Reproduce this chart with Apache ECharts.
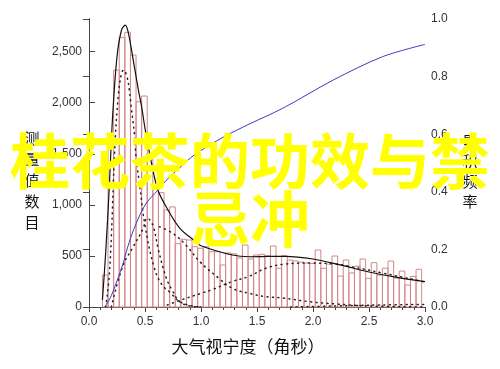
<!DOCTYPE html>
<html><head><meta charset="utf-8">
<script src="https://cdn.jsdelivr.net/npm/echarts@6/dist/echarts.min.js"></script>
<style>html,body{margin:0;padding:0;background:#fff}#c{width:500px;height:369px}</style>
</head><body><div id="c"></div>
<script>
// ---- data ----
const binStart = 0.12;
const binWidth = 0.05;
const counts = [313,1600,2320,2640,2690,2467,2010,2066,1500,1150,1120,950,980,620,663,656,590,575,590,541,541,411,528,520,480,607,470,509,516,500,597,379,502,460,450,440,430,427,558,379,420,499,303,460,333,400,470,281,434,313,380,450,284,352,215,300,369];
const fitTotal = [[0.12,70],[0.15,550],[0.18,1150],[0.21,1850],[0.25,2450],[0.29,2710],[0.325,2760],[0.35,2690],[0.39,2450],[0.44,2130],[0.47,1960],[0.5,1750],[0.56,1400],[0.615,1145],[0.7,960],[0.81,773],[0.94,650],[1.0,600],[1.28,509],[1.43,492],[1.6,495],[1.75,496],[2.0,470],[2.25,410],[2.5,343],[2.75,290],[3.0,248]];
const compA = [[0.15,0],[0.18,300],[0.2,700],[0.228,1500],[0.26,2050],[0.29,2290],[0.31,2320],[0.34,2250],[0.36,2125],[0.38,1930],[0.405,1700],[0.42,1470],[0.45,1214],[0.5,800],[0.58,395],[0.65,220],[0.73,137],[0.8,60],[0.9,15],[1.0,0]];
const compB = [[0.2,0],[0.3,395],[0.4,600],[0.48,760],[0.52,870],[0.57,800],[0.62,560],[0.69,284],[0.75,150],[0.81,52],[0.9,10],[1.0,0]];
const compC = [[0.63,786],[0.75,720],[0.87,600],[0.99,443],[1.15,290],[1.28,183],[1.43,134],[1.58,101],[1.73,88],[1.97,52],[2.2,30],[2.5,10],[3.0,0]];
const compD = [[0.7,20],[0.8,60],[0.99,130],[1.1,170],[1.28,250],[1.43,300],[1.58,380],[1.75,420],[1.97,430],[2.2,420],[2.34,395],[2.62,333],[2.92,264],[3.0,245]];
const compE = [[1.8,0],[2.2,10],[2.6,20],[3.0,25]];
const cumulative = [[0.14,0],[0.2,0.04],[0.3,0.146],[0.346,0.209],[0.4,0.27],[0.5,0.354],[0.615,0.406],[0.69,0.44],[0.8,0.48],[0.94,0.528],[1.2,0.59],[1.43,0.635],[1.73,0.69],[2.18,0.788],[2.62,0.869],[3.0,0.912]];
const leftTicks = [0,500,1000,1500,2000,2500];
const rightTicks = [0,0.2,0.4,0.6,0.8,1.0];
const xLabel = '大气视宁度（角秒）';
const yLeftLabel = '测量值数目';
const yRightLabel = '累积频率';
const overlayLines = ['桂花茶的功效与禁','忌冲'];

const chart = echarts.init(document.getElementById('c'), null, {renderer:'canvas'});
const axisCol = '#444';
const labelFont = {fontFamily:'Liberation Sans, Arial, sans-serif', fontSize:12, color:'#333'};
const dotted = {color:'#222', width:1.5, type:[1,4.5], cap:'round'};

const option = {
  animation:false,
  grid:{left:89, right:75, top:19, bottom:62},
  xAxis:[{
    type:'value', min:0, max:3, interval:0.5, position:'bottom',
    axisLine:{lineStyle:{color:axisCol, width:1}},
    axisTick:{inside:false, length:5, lineStyle:{color:axisCol}},
    minorTick:{show:true, splitNumber:5, length:3, lineStyle:{color:axisCol}},
    splitLine:{show:false},
    axisLabel:Object.assign({margin:9, formatter:v=>v.toFixed(1)}, labelFont)
  },{
    type:'value', min:0, max:3, interval:0.5, position:'top',
    axisLine:{lineStyle:{color:axisCol, width:1}},
    axisTick:{inside:true, length:5, lineStyle:{color:axisCol}},
    axisLabel:{show:false}, splitLine:{show:false}
  }],
  yAxis:[{
    type:'value', min:0, max:2820, position:'left',
    axisLine:{show:true, lineStyle:{color:axisCol, width:1}},
    axisTick:{inside:true, length:6, customValues:leftTicks, lineStyle:{color:axisCol}},
    splitLine:{show:false},
    axisLabel:Object.assign({margin:7, customValues:leftTicks, formatter:v=>v.toLocaleString('en-US')}, labelFont)
  },{
    type:'value', min:0, max:1, position:'right',
    axisLine:{show:true, lineStyle:{color:axisCol, width:1}},
    axisTick:{inside:true, length:6, customValues:rightTicks, lineStyle:{color:axisCol}},
    splitLine:{show:false},
    axisLabel:Object.assign({margin:6, customValues:rightTicks, formatter:v=>v.toFixed(1)}, labelFont)
  }],
  series:[
    {type:'custom', xAxisIndex:0, yAxisIndex:0, z:1,
     data:counts.map((c,i)=>[binStart+i*binWidth, binStart+(i+1)*binWidth, c]),
     encode:{x:[0,1], y:2},
     renderItem:function(params, api){
       const p0 = api.coord([api.value(0), api.value(2)]);
       const p1 = api.coord([api.value(1), 0]);
       return {type:'rect', shape:{x:p0[0], y:p0[1], width:p1[0]-p0[0], height:p1[1]-p0[1]},
         style:{fill:'rgba(255,255,255,0)', stroke:'#d4878a', lineWidth:1}};
     }},
    {type:'line', data:compA, smooth:0.4, showSymbol:false, lineStyle:dotted, z:3},
    {type:'line', data:compB, smooth:0.4, showSymbol:false, lineStyle:dotted, z:3},
    {type:'line', data:compC, smooth:0.4, showSymbol:false, lineStyle:dotted, z:3},
    {type:'line', data:compD, smooth:0.4, showSymbol:false, lineStyle:dotted, z:3},
    {type:'line', data:compE, smooth:0.4, showSymbol:false, lineStyle:dotted, z:3},
    {type:'line', data:fitTotal, smooth:0.35, showSymbol:false, lineStyle:{color:'#111', width:1.2}, z:4},
    {type:'line', yAxisIndex:1, data:cumulative, smooth:0.3, showSymbol:false, lineStyle:{color:'#3b3bc4', width:1}, z:5}
  ],
  graphic:[
    {type:'text', x:248, y:347, style:{text:xLabel, font:'17px "Noto Sans CJK SC"', fill:'#111', align:'center', verticalAlign:'middle'}},
    {type:'text', x:32, y:180, style:{text:yLeftLabel.split('').join('\n'), font:'15px "Noto Sans CJK SC"', lineHeight:21, fill:'#111', align:'center', verticalAlign:'middle'}},
    {type:'text', x:470, y:171, style:{text:yRightLabel.split('').join('\n'), font:'15px "Noto Sans CJK SC"', lineHeight:20, fill:'#111', align:'center', verticalAlign:'middle'}},
    {type:'text', x:250, y:161, z:100, style:{text:overlayLines[0], font:'bold 60px "Noto Sans CJK SC"', fill:'#ffff00', align:'center', verticalAlign:'middle'}},
    {type:'text', x:250, y:219, z:100, style:{text:overlayLines[1], font:'bold 60px "Noto Sans CJK SC"', fill:'#ffff00', align:'center', verticalAlign:'middle'}}
  ]
};
chart.setOption(option);
</script></body></html>
